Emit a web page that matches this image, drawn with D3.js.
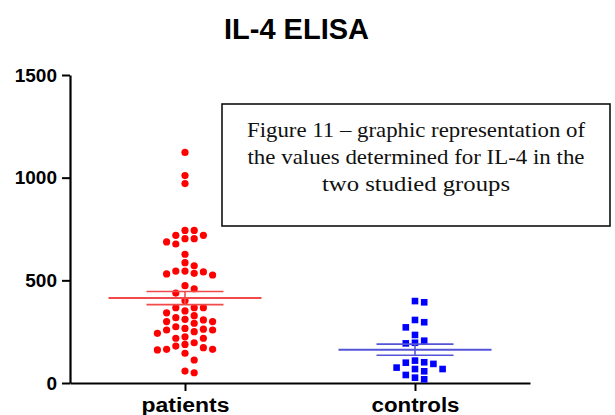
<!DOCTYPE html>
<html>
<head>
<meta charset="utf-8">
<script src="https://cdn.jsdelivr.net/npm/d3@7"></script>
<style>
  body { margin: 0; background: #fff; }
  svg { display: block; }
</style>
</head>
<body>
<div id="chart"></div>
<script>
const groups = ["patients", "controls"];
const patients = [1123, 1010, 971, 743, 743, 719, 719, 703, 703, 687, 677, 627,
    586, 571, 545, 531, 526, 534, 541, 545, 459, 474, 438, 401,
    351, 328, 367, 367, 367, 342, 299, 307, 310, 318, 291, 299,
    258, 242, 266, 262, 274, 250, 258, 196, 180, 218, 218, 225,
    164, 145, 161, 164, 172, 188, 112, 50, 58];
const controls = [393, 399, 296, 271, 307, 206, 193, 196, 234, 101,
    93, 68, 39, 68, 75, 99, 109, 57, 18, 26];
const yTicks = [0, 500, 1000, 1500];
const title = "IL-4 ELISA";
const captionLines = [
    "Figure 11 \u2013 graphic representation of",
    "the values determined for IL-4 in the",
    "two studied groups"
];

const width = 615, height = 415;
const svg = d3.select("#chart").append("svg")
    .attr("width", width)
    .attr("height", height);
svg.append("rect").attr("width", width).attr("height", height).attr("fill", "#fff");

const y = d3.scaleLinear().domain([0, 1500]).range([383, 75]);
const x = d3.scalePoint().domain(groups).range([70, 530]).padding(0.5);

// title
svg.append("text")
    .attr("x", 296.5).attr("y", 39)
    .attr("text-anchor", "middle")
    .style("font", "bold 29px 'Liberation Sans', Arial, sans-serif")
    .text(title);

// y axis
const yAxis = svg.append("g")
    .attr("transform", "translate(70,0)")
    .call(d3.axisLeft(y).tickValues(yTicks).tickFormat(d3.format("d"))
        .tickSize(8).tickSizeOuter(0).tickPadding(5));
yAxis.select(".domain").attr("stroke", "#000").attr("stroke-width", 2.2);
yAxis.selectAll(".tick line").attr("stroke", "#000").attr("stroke-width", 2);
yAxis.selectAll(".tick text")
    .style("font", "bold 19px 'Liberation Sans', Arial, sans-serif")
    .attr("fill", "#000");

// x axis
const xAxis = svg.append("g")
    .attr("transform", "translate(0,383)")
    .call(d3.axisBottom(x).tickSize(8).tickSizeOuter(0).tickPadding(7));
xAxis.select(".domain").attr("stroke", "#000").attr("stroke-width", 2.2);
xAxis.selectAll(".tick line").attr("stroke", "#000").attr("stroke-width", 2);
xAxis.selectAll(".tick text")
    .style("font", "bold 20px 'Liberation Sans', Arial, sans-serif")
    .attr("fill", "#000")
    .attr("dy", "0.71em")
    .attr("textLength", 88)
    .attr("lengthAdjust", "spacingAndGlyphs");

// column-style scatter, like the prism dot plot
function swarm(values, cx) {
    const step = 9.2, gap = 7.5;
    const placed = [];
    const out = new Array(values.length);
    const order = d3.range(values.length).sort((a, b) => values[b] - values[a]);
    for (const i of order) {
        const py = y(values[i]);
        for (let k = 0; ; k++) {
            const slot = k === 0 ? 0 : (k % 2 ? (k + 1) / 2 : -k / 2);
            if (!placed.some(p => p.slot === slot && Math.abs(p.py - py) < gap)) {
                placed.push({ slot, py });
                out[i] = { x: cx + slot * step, y: py };
                break;
            }
        }
    }
    return out;
}

const pPts = swarm(patients, x("patients"));
const cPts = swarm(controls, x("controls"));

svg.append("g").selectAll("circle")
    .data(pPts)
    .join("circle")
    .attr("cx", d => d.x)
    .attr("cy", d => d.y)
    .attr("r", 3.6)
    .attr("fill", "#ff0000");

svg.append("g").selectAll("rect")
    .data(cPts)
    .join("rect")
    .attr("x", d => d.x - 3.3)
    .attr("y", d => d.y - 3.3)
    .attr("width", 6.6)
    .attr("height", 6.6)
    .attr("fill", "#0000ff");

// mean +/- SEM
function meanBar(values, cx, color) {
    const m = d3.mean(values);
    const sem = d3.deviation(values) / Math.sqrt(values.length);
    const g = svg.append("g").attr("stroke", color).attr("fill", "none");
    g.append("line").attr("x1", cx - 76.5).attr("x2", cx + 76.5)
        .attr("y1", y(m)).attr("y2", y(m)).attr("stroke-width", 2);
    g.append("line").attr("x1", cx).attr("x2", cx)
        .attr("y1", y(m - sem)).attr("y2", y(m + sem)).attr("stroke-width", 1.6);
    [m - sem, m + sem].forEach(v => {
        g.append("line").attr("x1", cx - 38.5).attr("x2", cx + 38.5)
            .attr("y1", y(v)).attr("y2", y(v)).attr("stroke-width", 1.6);
    });
}
meanBar(patients, x("patients"), "#f24a4a");
meanBar(controls, x("controls"), "#5454d8");

// caption box
svg.append("rect")
    .attr("x", 222).attr("y", 104)
    .attr("width", 388).attr("height", 122)
    .attr("fill", "#fff")
    .attr("stroke", "#111")
    .attr("stroke-width", 1.6);

const capLens = [338, 337, 188];
const capY = [137, 164, 191];
svg.append("g").selectAll("text")
    .data(captionLines)
    .join("text")
    .attr("x", 416)
    .attr("y", (d, i) => capY[i])
    .attr("text-anchor", "middle")
    .attr("textLength", (d, i) => capLens[i])
    .attr("lengthAdjust", "spacingAndGlyphs")
    .style("font", "21px 'Liberation Serif', 'Times New Roman', serif")
    .attr("fill", "#111")
    .text(d => d);
</script>
</body>
</html>
